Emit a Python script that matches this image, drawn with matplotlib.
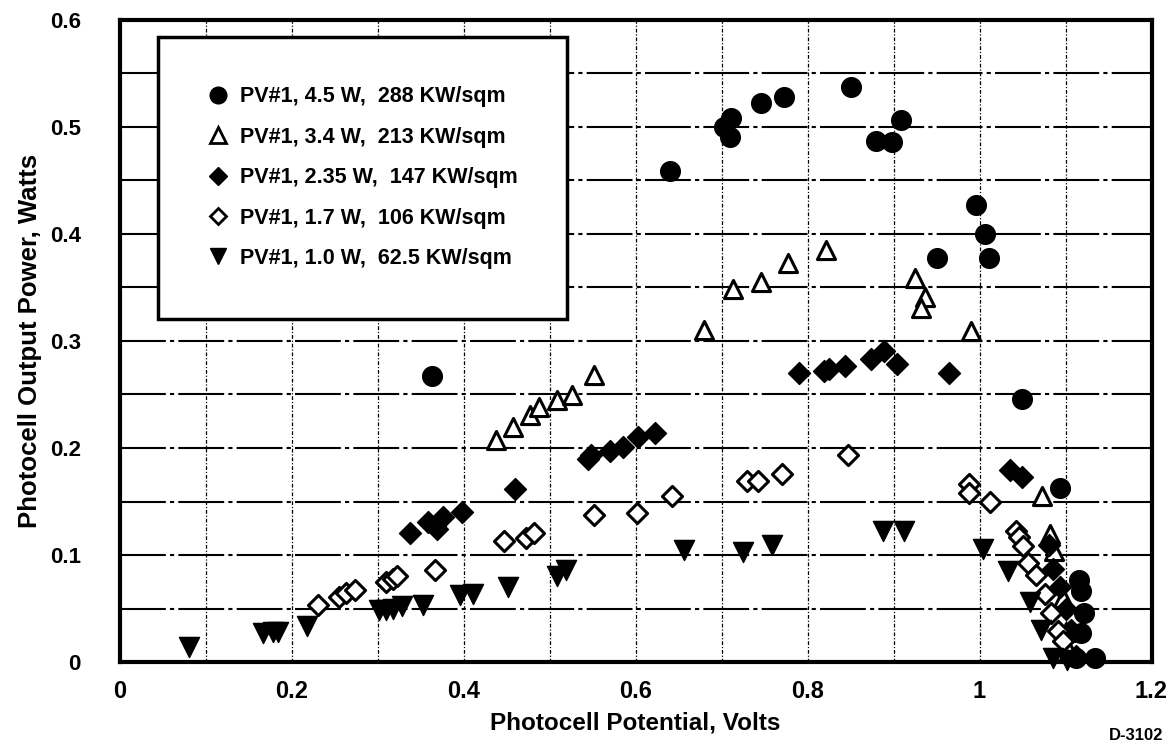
import matplotlib
matplotlib.use("Agg")
import matplotlib.pyplot as plt
from matplotlib.lines import Line2D
import numpy as np

# Photocell output power vs potential, 5 irradiance levels
labels = [
    "PV#1, 4.5 W,  288 KW/sqm",
    "PV#1, 3.4 W,  213 KW/sqm",
    "PV#1, 2.35 W,  147 KW/sqm",
    "PV#1, 1.7 W,  106 KW/sqm",
    "PV#1, 1.0 W,  62.5 KW/sqm",
]

x_45 = [0.363, 0.640, 0.703, 0.710, 0.711, 0.746, 0.772, 0.850, 0.880, 0.898, 0.909, 0.951,
        0.996, 1.006, 1.011, 1.049, 1.093, 1.116, 1.118, 1.122, 1.118, 1.112, 1.134]
y_45 = [0.267, 0.459, 0.500, 0.490, 0.508, 0.522, 0.528, 0.537, 0.487, 0.486, 0.506, 0.377,
        0.427, 0.400, 0.377, 0.246, 0.163, 0.077, 0.066, 0.046, 0.027, 0.004, 0.004]

x_34 = [0.438, 0.457, 0.477, 0.487, 0.509, 0.526, 0.551, 0.680, 0.713, 0.746, 0.777, 0.821,
        0.925, 0.937, 0.932, 0.990, 1.073, 1.082, 1.087, 1.097, 1.100, 1.104]
y_34 = [0.207, 0.220, 0.231, 0.238, 0.245, 0.249, 0.268, 0.310, 0.348, 0.355, 0.373, 0.385,
        0.359, 0.341, 0.331, 0.309, 0.155, 0.120, 0.104, 0.060, 0.028, 0.010]

x_235 = [0.337, 0.359, 0.366, 0.369, 0.376, 0.398, 0.460, 0.545, 0.548, 0.570, 0.585, 0.603,
         0.623, 0.790, 0.819, 0.825, 0.844, 0.874, 0.889, 0.904, 0.964, 1.035, 1.049, 1.081,
         1.086, 1.093, 1.100, 1.106, 1.112]
y_235 = [0.121, 0.131, 0.127, 0.124, 0.136, 0.140, 0.162, 0.190, 0.193, 0.197, 0.201, 0.210,
         0.214, 0.270, 0.272, 0.274, 0.277, 0.283, 0.291, 0.278, 0.270, 0.179, 0.173, 0.109,
         0.087, 0.070, 0.050, 0.030, 0.006]

x_17 = [0.231, 0.255, 0.263, 0.273, 0.310, 0.318, 0.322, 0.367, 0.447, 0.473, 0.482, 0.551,
        0.601, 0.642, 0.729, 0.742, 0.770, 0.847, 0.988, 0.988, 1.012, 1.042, 1.046, 1.050,
        1.056, 1.066, 1.076, 1.083, 1.091, 1.097]
y_17 = [0.053, 0.061, 0.065, 0.067, 0.075, 0.078, 0.080, 0.086, 0.113, 0.116, 0.121, 0.137,
        0.139, 0.155, 0.169, 0.169, 0.176, 0.193, 0.166, 0.158, 0.150, 0.122, 0.117, 0.108,
        0.093, 0.081, 0.064, 0.046, 0.029, 0.020]

x_10 = [0.080, 0.166, 0.178, 0.184, 0.218, 0.302, 0.310, 0.318, 0.328, 0.353, 0.396, 0.411,
        0.452, 0.509, 0.519, 0.656, 0.725, 0.759, 0.888, 0.912, 1.004, 1.033, 1.059, 1.072,
        1.085, 1.102]
y_10 = [0.014, 0.027, 0.028, 0.028, 0.034, 0.049, 0.049, 0.050, 0.052, 0.053, 0.0625, 0.064,
        0.070, 0.080, 0.086, 0.105, 0.103, 0.109, 0.122, 0.122, 0.106, 0.085, 0.056, 0.030,
        0.004, 0.002]

x_ticks = [0, 0.2, 0.4, 0.6, 0.8, 1.0, 1.2]
x_tick_labels = ["0", "0.2", "0.4", "0.6", "0.8", "1", "1.2"]
y_ticks = [0, 0.1, 0.2, 0.3, 0.4, 0.5, 0.6]
y_tick_labels = ["0", "0.1", "0.2", "0.3", "0.4", "0.5", "0.6"]

fam = ["Liberation Sans", "DejaVu Sans"]

fig = plt.figure(figsize=(11.75, 7.55), dpi=100)
ax = fig.add_axes([0.102, 0.123, 0.878, 0.851])

ax.set_xlim(0, 1.2)
ax.set_ylim(0, 0.6)

# grid: vertical every 0.1 (dotted dash), horizontal every 0.05 (long dash-dot)
ax.set_xticks(np.arange(0, 1.21, 0.1), minor=True)
ax.set_yticks(np.arange(0, 0.61, 0.05), minor=True)
ax.xaxis.grid(True, which="both", color="black", linewidth=0.9, linestyle=(0, (3, 1.5, 1, 1.5)))
ax.yaxis.grid(True, which="both", color="black", linewidth=1.5, linestyle=(0, (22, 2, 2, 2)))
ax.set_axisbelow(True)

ax.scatter(x_45, y_45, marker="o", s=200, color="black", clip_on=False, zorder=3)
ax.scatter(x_34, y_34, marker="^", s=170, facecolors="white", edgecolors="black",
           linewidths=2.2, clip_on=False, zorder=3)
ax.scatter(x_235, y_235, marker="D", s=125, color="black", clip_on=False, zorder=3)
ax.scatter(x_17, y_17, marker="D", s=105, facecolors="white", edgecolors="black",
           linewidths=2.2, clip_on=False, zorder=3)
ax.scatter(x_10, y_10, marker="v", s=210, color="black", clip_on=False, zorder=3)

ax.set_xticks(x_ticks)
ax.set_xticklabels(x_tick_labels, fontsize=17, fontweight="bold", family=fam)
ax.set_yticks(y_ticks)
ax.set_yticklabels(y_tick_labels, fontsize=16, fontweight="bold", family=fam)
ax.tick_params(axis="both", which="both", length=0)
ax.tick_params(axis="x", pad=13)
ax.tick_params(axis="y", pad=28)

ax.set_xlabel("Photocell Potential, Volts", fontsize=17.5, fontweight="bold", family=fam, labelpad=6)
ax.set_ylabel("Photocell Output Power, Watts", fontsize=18.5, fontweight="bold", family=fam, labelpad=6)

for sp in ax.spines.values():
    sp.set_linewidth(3)
    sp.set_color("black")

handles = [
    Line2D([], [], marker="o", linestyle="none", color="black", markersize=12),
    Line2D([], [], marker="^", linestyle="none", markerfacecolor="white", markeredgecolor="black",
           markeredgewidth=2, markersize=11),
    Line2D([], [], marker="D", linestyle="none", color="black", markersize=9),
    Line2D([], [], marker="D", linestyle="none", markerfacecolor="white", markeredgecolor="black",
           markeredgewidth=2, markersize=8.5),
    Line2D([], [], marker="v", linestyle="none", color="black", markersize=12),
]
leg = ax.legend(handles, labels, loc="upper left", bbox_to_anchor=(0.037, 0.973),
                frameon=True, fancybox=False, borderpad=2.3, labelspacing=0.9,
                handletextpad=0.5, handlelength=1.0, borderaxespad=0,
                prop={"family": fam, "weight": "bold", "size": 15.5})
leg.get_frame().set_edgecolor("black")
leg.get_frame().set_linewidth(2.5)
leg.get_frame().set_alpha(1)
leg.set_zorder(5)

fig.text(0.99, 0.016, "D-3102", ha="right", va="bottom", fontsize=12, fontweight="bold", family=fam)

fig.savefig("out.png", dpi=100)
